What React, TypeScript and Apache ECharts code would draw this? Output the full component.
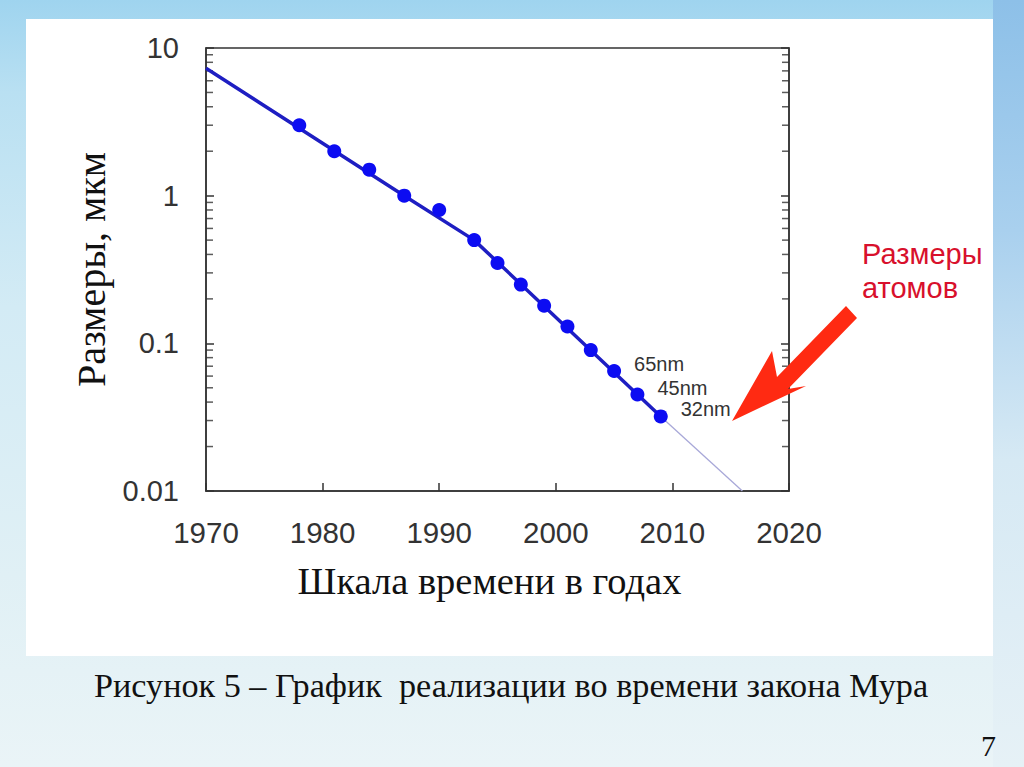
import React, { useEffect, useRef } from "react";
import * as echarts from "echarts";

// ---- data ----
const years = [1978, 1981, 1984, 1987, 1990, 1993, 1995, 1997, 1999, 2001, 2003, 2005, 2007, 2009];
const sizes = [3, 2, 1.5, 1, 0.8, 0.5, 0.35, 0.25, 0.18, 0.13, 0.09, 0.065, 0.045, 0.032];
const nodeLabels = ["", "", "", "", "", "", "", "", "", "", "", "65nm", "45nm", "32nm"];
const trendYears = [1970, 1987, 1993, 2009];
const trendValues = [7.3, 1.0, 0.5, 0.032];
const extYears = [2009, 2016];
const extValues = [0.032, 0.01];
const xTicks = [1970, 1980, 1990, 2000, 2010, 2020];
const yTickLabels = ["0.01", "0.1", "1", "10"];
const minorTickValues = [
  0.02, 0.03, 0.04, 0.05, 0.06, 0.07, 0.08, 0.09,
  0.2, 0.3, 0.4, 0.5, 0.6, 0.7, 0.8, 0.9,
  2, 3, 4, 5, 6, 7, 8, 9,
];
const X_MIN = xTicks[0];
const X_MAX = xTicks[xTicks.length - 1];

const SANS = "'Liberation Sans', Arial, sans-serif";
const SERIF = "'Liberation Serif', 'Times New Roman', serif";

export default function App() {
  const ref = useRef<HTMLDivElement>(null);
  useEffect(() => {
    const chart = echarts.init(ref.current!, null, { renderer: "svg" });
    const tickStyle = { color: "#333" };
    const option: any = {
      animation: false,
      backgroundColor: "transparent",
      grid: {
        left: 206,
        top: 48,
        width: 583,
        height: 443,
        show: true,
        borderColor: "#333",
        borderWidth: 1.5,
        backgroundColor: "transparent",
      },
      xAxis: {
        type: "value",
        min: X_MIN,
        max: X_MAX,
        interval: 10,
        name: "Шкала времени в годах",
        nameLocation: "middle",
        nameGap: 70,
        nameTextStyle: { fontFamily: SERIF, fontSize: 38.5, color: "#111", padding: [0, 16, 0, 0] },
        axisLine: { show: true, lineStyle: { color: "#333", width: 1.5 } },
        axisTick: { show: true, inside: true, length: 8, lineStyle: { color: "#333", width: 1.5 } },
        axisLabel: {
          fontFamily: SANS,
          fontSize: 29.5,
          color: "#333",
          margin: 26,
          showMinLabel: true,
          showMaxLabel: true,
          formatter: (v: number) => String(v),
        },
        splitLine: { show: false },
      },
      yAxis: [
        {
          type: "log",
          logBase: 10,
          min: 0.01,
          max: 10,
          position: "left",
          name: "Размеры, мкм",
          nameLocation: "middle",
          nameRotate: 90,
          nameGap: 86,
          nameTextStyle: { fontFamily: SERIF, fontSize: 40, color: "#111" },
          axisLine: { show: true, lineStyle: { color: "#333", width: 1.5 } },
          axisTick: { show: true, inside: true, length: 8, lineStyle: { color: "#333", width: 1.5 } },
          axisLabel: {
            fontFamily: SANS,
            fontSize: 29,
            color: "#333",
            margin: 27,
            formatter: (v: number) => yTickLabels[Math.round(Math.log10(v)) + 2],
          },
          splitLine: { show: false },
        },
        {
          type: "log",
          logBase: 10,
          min: 0.01,
          max: 10,
          position: "right",
          axisLine: { show: true, lineStyle: { color: "#333", width: 1.5 } },
          axisTick: { show: true, inside: true, length: 8, lineStyle: { color: "#333", width: 1.5 } },
          axisLabel: { show: false },
          splitLine: { show: false },
        },
      ],
      series: [
        {
          type: "scatter",
          name: "minorTicksLeft",
          silent: true,
          clip: false,
          symbol: "rect",
          symbolSize: [7, 1.5],
          symbolOffset: [3.5, 0],
          itemStyle: tickStyle,
          data: minorTickValues.map((v) => [X_MIN, v]),
          z: 1,
        },
        {
          type: "scatter",
          name: "minorTicksRight",
          silent: true,
          clip: false,
          symbol: "rect",
          symbolSize: [7, 1.5],
          symbolOffset: [-3.5, 0],
          itemStyle: tickStyle,
          data: minorTickValues.map((v) => [X_MAX, v]),
          z: 1,
        },
        {
          type: "line",
          name: "extrapolation",
          data: extYears.map((y, i) => [y, extValues[i]]),
          symbol: "none",
          lineStyle: { color: "#a8a8d8", width: 1.3 },
          z: 2,
        },
        {
          type: "line",
          name: "trend",
          data: trendYears.map((y, i) => [y, trendValues[i]]),
          symbol: "none",
          lineStyle: { color: "#1e1ec2", width: 3.5 },
          z: 3,
        },
        {
          type: "scatter",
          name: "sizes",
          symbolSize: 14,
          itemStyle: { color: "#0c0cf2", opacity: 1 },
          data: years.map((y, i) => ({
            value: [y, sizes[i]],
            label: {
              show: nodeLabels[i] !== "",
              formatter: nodeLabels[i],
              position: "right",
              distance: 13,
              offset: [0, -7],
              fontFamily: SANS,
              fontSize: 20,
              color: "#333",
            },
          })),
          z: 4,
        },
      ],
      graphic: [
        {
          type: "polygon",
          z: 10,
          shape: {
            points: [
              [732, 421],
              [772, 351],
              [777, 377],
              [846, 306],
              [857, 318],
              [788, 389],
              [806, 386],
            ],
          },
          style: { fill: "#ff2a12" },
        },
        {
          type: "text",
          z: 10,
          left: 862,
          top: 237,
          style: {
            text: "Размеры\nатомов",
            fontFamily: SANS,
            fontSize: 29,
            lineHeight: 34,
            fill: "#d8102c",
          },
        },
        {
          type: "text",
          z: 10,
          left: 94,
          top: 668,
          style: {
            text: "Рисунок 5 – График  реализации во времени закона Мура",
            fontFamily: SERIF,
            fontSize: 34.2,
            fill: "#111",
          },
        },
        {
          type: "text",
          z: 10,
          left: 981,
          top: 730,
          style: { text: "7", fontFamily: SERIF, fontSize: 30, fill: "#111" },
        },
      ],
    };
    chart.setOption(option);
    return () => chart.dispose();
  }, []);

  return (
    <div
      style={{
        position: "fixed",
        left: 0,
        top: 0,
        width: 1024,
        height: 767,
        overflow: "hidden",
        background:
          "linear-gradient(180deg, #9fd4ef 0%, #b9e0f2 12%, #d3ebf5 40%, #e0f0f5 75%, #eaf4f7 100%)",
      }}
    >
      <div
        style={{
          position: "absolute",
          right: 0,
          top: 0,
          width: 31,
          height: 767,
          background: "linear-gradient(180deg, #8dc0e8 0%, #a9d0ee 30%, #d6e9f4 60%, #e6f1f6 100%)",
        }}
      />
      <div
        style={{
          position: "absolute",
          left: 26,
          top: 19,
          width: 967,
          height: 637,
          background: "#ffffff",
        }}
      />
      <div ref={ref} style={{ position: "absolute", left: 0, top: 0, width: 1024, height: 767 }} />
    </div>
  );
}
